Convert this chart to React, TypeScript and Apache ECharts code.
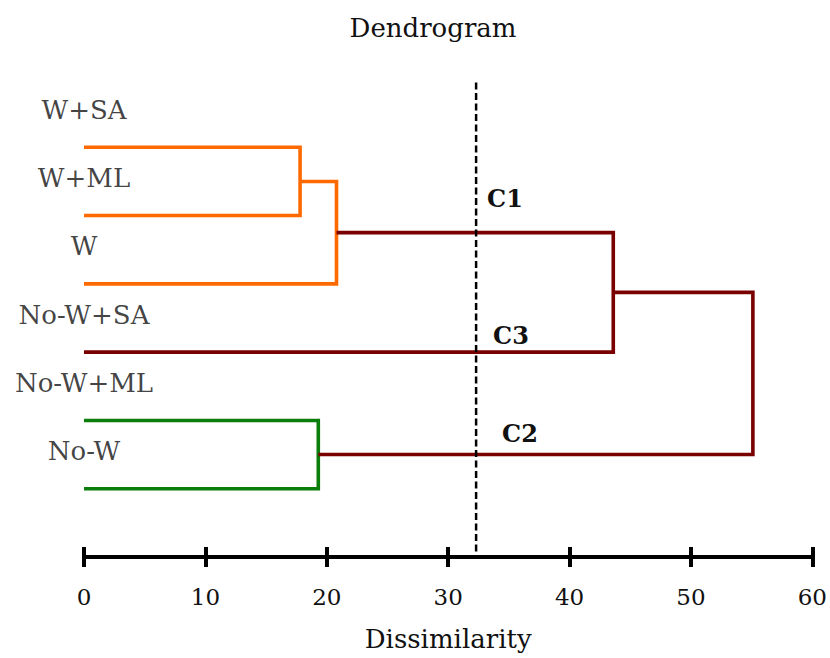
import React, { useEffect, useRef } from "react";
import * as echarts from "echarts";

// Leaf labels (top to bottom, as printed on the left)
const leafLabels = ["W+SA", "W+ML", "W", "No-W+SA", "No-W+ML", "No-W"];
// Leaf rows (drawn leaf lines, top to bottom)
const leafRows = [0, 1, 2, 3, 4, 5];

// Merges (agglomeration steps)
const mergeIds = ["A", "B", "C", "D", "E"];
const mergeLeft = ["L0", "A", "L4", "B", "D"];
const mergeRight = ["L1", "L2", "L5", "L3", "C"];
const mergeHeights = [17.8, 20.8, 19.3, 43.6, 55.1];
const mergeGroups = ["orange", "orange", "green", "red", "red"];

// Cut-off line and cluster names
const cutHeight = 32.3;
const clusterNames = ["C1", "C3", "C2"];

// Axis
const xTicks = [0, 10, 20, 30, 40, 50, 60];

const COLORS: Record<string, string> = {
  orange: "#ff6a00",
  red: "#7a0000",
  green: "#0a7d0a",
};

const FONT = "'DejaVu Serif', 'Liberation Serif', serif";

export default function App() {
  const ref = useRef<HTMLDivElement>(null);

  useEffect(() => {
    document.body.style.margin = "0";
    if (!ref.current) return;
    const chart = echarts.init(ref.current, undefined, { renderer: "svg" });

    // Node positions: x = height, y = row
    const nodes: Record<string, [number, number]> = {};
    leafRows.forEach((r, i) => {
      nodes["L" + i] = [0, r];
    });
    const series: any[] = [];
    mergeIds.forEach((id, i) => {
      const a = nodes[mergeLeft[i]];
      const b = nodes[mergeRight[i]];
      const h = mergeHeights[i];
      nodes[id] = [h, (a[1] + b[1]) / 2];
      series.push({
        type: "line",
        data: [
          [a[0], a[1]],
          [h, a[1]],
          [h, b[1]],
          [b[0], b[1]],
        ],
        showSymbol: false,
        symbol: "none",
        silent: true,
        lineStyle: {
          color: COLORS[mergeGroups[i]],
          width: 3.6,
          cap: "butt",
          join: "miter",
        },
        z: 3,
      });
    });

    // cut-off dashed line
    series.push({
      type: "line",
      data: [
        [cutHeight, -0.95],
        [cutHeight, 6],
      ],
      showSymbol: false,
      symbol: "none",
      silent: true,
      lineStyle: { color: "#000", width: 2.5, type: [7, 3.5] },
      z: 4,
    });

    // leaf labels
    const labelOffset = -0.55;
    series.push({
      type: "scatter",
      symbolSize: 0,
      silent: true,
      data: leafLabels.map((name, i) => ({ value: [0, leafRows[i] + labelOffset], name })),
      label: {
        show: true,
        position: "inside",
        formatter: (p: any) => p.name,
        color: "#111",
        fontFamily: FONT,
        fontSize: 26,
      },
      z: 5,
    });

    const clusterPos: [number, number][] = [
      [505, 198],
      [511, 335],
      [520, 433],
    ];

    chart.setOption({
      animation: false,
      backgroundColor: "#fff",
      grid: { left: 84, right: 17, top: 79, bottom: 101, containLabel: false },
      xAxis: [
        {
          type: "value",
          min: 0,
          max: 60,
          interval: 10,
          position: "bottom",
          axisLine: { show: true, onZero: false, lineStyle: { color: "#000", width: 4 } },
          axisTick: { show: true, inside: false, length: 10, lineStyle: { color: "#000", width: 4 } },
          axisLabel: {
            show: true,
            margin: 28,
            color: "#111",
            fontFamily: FONT,
            fontSize: 23,
            formatter: (v: number) => (xTicks.includes(v) ? String(v) : ""),
          },
          splitLine: { show: false },
          name: "Dissimilarity",
          nameLocation: "middle",
          nameGap: 69,
          nameTextStyle: { color: "#111", fontFamily: FONT, fontSize: 26 },
        },
        {
          type: "value",
          min: 0,
          max: 60,
          interval: 10,
          position: "bottom",
          axisLine: { show: false, onZero: false },
          axisTick: { show: true, inside: true, length: 10, lineStyle: { color: "#000", width: 4 } },
          axisLabel: { show: false },
          splitLine: { show: false },
        },
      ],
      yAxis: {
        type: "value",
        min: -1,
        max: 6,
        inverse: true,
        show: false,
        splitLine: { show: false },
      },
      graphic: [
        {
          type: "text",
          x: 433,
          y: 28,
          style: {
            text: "Dendrogram",
            fill: "#111",
            font: `26px ${FONT}`,
            textAlign: "center",
            textVerticalAlign: "middle",
          },
        },
        ...clusterNames.map((t, i) => ({
          type: "text",
          x: clusterPos[i][0],
          y: clusterPos[i][1],
          z: 10,
          style: {
            text: t,
            fill: "#111",
            font: `bold 24px ${FONT}`,
            textAlign: "center",
            textVerticalAlign: "middle",
          },
        })),
      ],
      series,
    });

    return () => chart.dispose();
  }, []);

  return <div ref={ref} style={{ width: 830, height: 658 }} />;
}
